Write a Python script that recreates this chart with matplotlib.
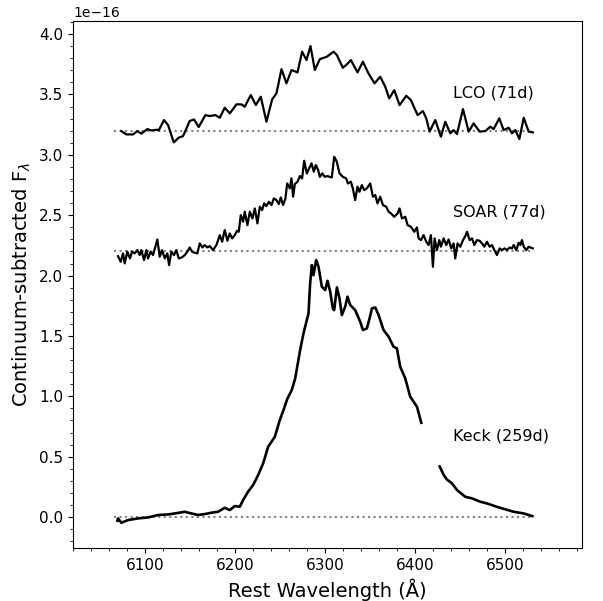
import matplotlib
matplotlib.use("Agg")
import matplotlib.pyplot as plt
import numpy as np
from matplotlib.ticker import MultipleLocator

SCALE = 1e-16

# LCO (71d), continuum-subtracted flux in units of 1e-16
lco_wave = [6073.7, 6079.3, 6086.7, 6091.5, 6095.9, 6102.6, 6107.0, 6113.7, 6115.2, 6121.1,
            6125.6, 6131.9, 6137.4, 6142.2, 6149.6, 6154.4, 6159.6, 6167.0, 6171.9, 6178.1,
            6183.0, 6188.5, 6194.1, 6201.5, 6207.0, 6210.7, 6217.4, 6223.0, 6228.5, 6234.8,
            6241.1, 6245.9, 6251.5, 6257.0, 6262.6, 6269.3, 6274.4, 6279.3, 6283.7, 6288.5,
            6294.1, 6301.8, 6309.3, 6313.0, 6319.6, 6324.1, 6328.5, 6335.9, 6341.9, 6348.1,
            6354.8, 6361.1, 6366.7, 6371.1, 6376.7, 6382.6, 6390.0, 6395.2, 6402.6, 6408.5,
            6412.2, 6415.9, 6422.2, 6428.5, 6433.3, 6438.9, 6442.6, 6446.3, 6453.0, 6459.3,
            6464.8, 6471.5, 6477.8, 6483.3, 6487.0, 6493.3, 6498.1, 6503.7, 6507.4, 6511.1,
            6515.6, 6520.4, 6525.9, 6530.7]
lco_flux = [-0.003, -0.031, -0.031, -0.003, -0.025, 0.013, 0.002, 0.008, 0.002, 0.088,
            0.046, -0.097, -0.058, -0.045, 0.080, 0.093, 0.030, 0.129, 0.121, 0.129,
            0.107, 0.190, 0.143, 0.218, 0.218, 0.198, 0.295, 0.212, 0.281, 0.074,
            0.259, 0.309, 0.510, 0.392, 0.502, 0.483, 0.654, 0.585, 0.701, 0.502,
            0.593, 0.612, 0.654, 0.626, 0.521, 0.549, 0.585, 0.483, 0.571, 0.474,
            0.392, 0.447, 0.364, 0.267, 0.336, 0.212, 0.289, 0.253, 0.129, 0.162,
            0.102, -0.008, 0.088, -0.050, 0.074, -0.022, 0.005, -0.028, 0.179, -0.008,
            0.060, -0.008, -0.003, 0.033, 0.013, 0.102, 0.005, 0.024, -0.022, 0.005,
            -0.069, 0.107, -0.008, -0.014]

# SOAR (77d)
soar_wave = [6070.0, 6073.0, 6075.6, 6077.4, 6080.4, 6083.3, 6085.6, 6088.5, 6091.5, 6094.1,
             6095.9, 6098.9, 6101.5, 6103.3, 6106.3, 6108.9, 6111.5, 6113.7, 6116.3, 6118.9,
             6121.9, 6124.8, 6126.7, 6129.3, 6132.2, 6134.8, 6137.4, 6141.1, 6144.1, 6147.0,
             6149.6, 6152.2, 6155.2, 6158.1, 6160.7, 6163.7, 6166.3, 6169.3, 6171.9, 6175.6,
             6179.3, 6183.0, 6185.6, 6188.5, 6191.5, 6194.1, 6196.7, 6199.6, 6202.2, 6204.1,
             6206.3, 6208.9, 6210.7, 6213.7, 6216.3, 6219.3, 6221.9, 6224.8, 6227.4, 6230.0,
             6232.2, 6234.8, 6237.4, 6240.4, 6243.0, 6245.9, 6248.5, 6250.7, 6253.3, 6255.9,
             6257.8, 6260.7, 6262.6, 6264.4, 6266.3, 6269.3, 6271.9, 6274.4, 6276.7, 6279.6,
             6282.2, 6284.8, 6287.4, 6289.6, 6292.2, 6294.1, 6296.7, 6299.6, 6302.6, 6304.8,
             6307.4, 6310.0, 6312.9, 6315.9, 6319.6, 6323.3, 6325.2, 6328.5, 6330.7, 6333.3,
             6335.9, 6338.1, 6340.7, 6343.3, 6346.3, 6350.0, 6353.0, 6355.6, 6358.1, 6361.1,
             6364.1, 6367.8, 6370.4, 6373.0, 6376.7, 6380.4, 6382.6, 6385.2, 6388.9, 6391.5,
             6395.2, 6398.9, 6401.9, 6403.7, 6406.3, 6409.3, 6412.2, 6414.8, 6417.4, 6419.6,
             6421.5, 6424.1, 6426.7, 6428.5, 6431.5, 6434.4, 6437.0, 6440.0, 6442.6, 6444.4,
             6447.0, 6450.0, 6453.0, 6455.6, 6457.4, 6460.4, 6463.0, 6465.6, 6468.5, 6471.5,
             6474.1, 6476.7, 6479.6, 6482.6, 6485.2, 6487.8, 6490.7, 6493.7, 6496.3, 6499.3,
             6501.9, 6504.8, 6507.4, 6509.3, 6512.2, 6514.8, 6516.7, 6518.5, 6520.4, 6523.3,
             6525.9, 6530.4]
soar_flux = [-0.039, -0.086, -0.016, -0.099, -0.002, -0.058, -0.002, -0.016, 0.011, -0.030,
             0.011, -0.071, 0.011, -0.058, -0.002, -0.030, 0.039, 0.099, -0.044, 0.011,
             -0.058, -0.016, -0.113, -0.002, -0.030, 0.011, -0.058, -0.049, -0.030, -0.002,
             0.033, -0.002, -0.011, -0.016, 0.066, 0.033, 0.053, 0.033, 0.044, 0.011,
             0.053, 0.135, 0.080, 0.177, 0.088, 0.149, 0.108, 0.135, 0.171, 0.163,
             0.301, 0.246, 0.329, 0.218, 0.329, 0.273, 0.356, 0.232, 0.370, 0.342,
             0.398, 0.376, 0.411, 0.384, 0.439, 0.425, 0.392, 0.447, 0.384, 0.439,
             0.563, 0.522, 0.605, 0.453, 0.558, 0.577, 0.624, 0.605, 0.751, 0.646,
             0.688, 0.729, 0.660, 0.715, 0.674, 0.618, 0.646, 0.618, 0.624, 0.618,
             0.613, 0.784, 0.743, 0.646, 0.618, 0.605, 0.563, 0.577, 0.522, 0.425,
             0.536, 0.494, 0.549, 0.508, 0.522, 0.563, 0.453, 0.467, 0.398, 0.453,
             0.384, 0.370, 0.329, 0.315, 0.287, 0.315, 0.356, 0.273, 0.287, 0.218,
             0.204, 0.163, 0.199, 0.108, 0.094, 0.135, 0.080, 0.053, 0.135, -0.127,
             0.108, 0.011, 0.094, 0.039, 0.108, 0.053, 0.099, 0.025, 0.066, -0.058,
             0.066, 0.039, 0.094, 0.127, 0.163, 0.094, 0.108, 0.053, 0.094, 0.088,
             0.066, 0.039, 0.080, 0.039, 0.053, 0.011, -0.030, 0.025, 0.011, 0.025,
             0.011, 0.033, 0.025, 0.053, 0.011, 0.072, 0.053, 0.094, 0.039, 0.011,
             0.039, 0.025]

# Keck (259d); NaN marks the masked gap
keck_wave = [6069.3, 6070.0, 6073.7, 6081.1, 6092.2, 6103.3, 6114.4, 6125.6, 6133.0, 6144.1,
             6151.5, 6158.9, 6166.3, 6173.7, 6181.1, 6188.5, 6194.1, 6199.6, 6205.2, 6208.9,
             6214.4, 6220.0, 6225.6, 6231.1, 6236.7, 6244.1, 6249.6, 6253.7, 6258.0, 6262.9,
             6266.7, 6272.2, 6275.9, 6281.5, 6283.3, 6285.2, 6287.0, 6290.0, 6292.6, 6296.3,
             6300.0, 6302.6, 6305.6, 6308.5, 6310.0, 6313.0, 6315.9, 6318.5, 6322.2, 6324.8,
             6327.8, 6333.3, 6338.9, 6341.9, 6346.3, 6349.3, 6351.9, 6355.6, 6359.3, 6364.8,
             6370.4, 6375.9, 6379.6, 6383.3, 6388.9, 6394.4, 6401.9, 6406.7, 6416.0,
             6427.0, 6431.5, 6435.2, 6440.7, 6446.3, 6451.9, 6455.6, 6463.0, 6472.2, 6479.6,
             6490.7, 6500.0, 6509.3, 6520.4, 6530.0]
keck_flux = [-0.030, -0.011, -0.047, -0.025, -0.011, -0.003, 0.017, 0.022, 0.030, 0.044,
             0.030, 0.017, 0.025, 0.036, 0.044, 0.077, 0.058, 0.091, 0.086, 0.141,
             0.210, 0.265, 0.348, 0.444, 0.582, 0.665, 0.803, 0.886, 0.980, 1.052,
             1.148, 1.383, 1.521, 1.687, 1.935, 2.087, 2.004, 2.128, 2.073, 1.908,
             1.880, 1.957, 1.866, 1.728, 1.714, 1.902, 1.811, 1.673, 1.742, 1.825,
             1.756, 1.714, 1.618, 1.549, 1.563, 1.645, 1.728, 1.736, 1.673, 1.549,
             1.494, 1.411, 1.397, 1.245, 1.148, 0.997, 0.914, 0.781, np.nan,
             0.420, 0.350, 0.310, 0.280, 0.224, 0.190, 0.168, 0.155, 0.127, 0.113,
             0.085, 0.064, 0.044, 0.030, 0.008]

labels = ["LCO (71d)", "SOAR (77d)", "Keck (259d)"]
offsets = [3.2, 2.2, 0.0]
label_y = [3.51, 2.53, 0.67]
zero_range = [6066, 6528]
line_widths = [1.6, 1.6, 1.9]


def main() -> None:
    fig = plt.figure(figsize=(6.03, 6.01), dpi=100)
    ax = fig.add_axes([0.121, 0.088, 0.844, 0.877])

    spectra = [(lco_wave, lco_flux), (soar_wave, soar_flux), (keck_wave, keck_flux)]
    for (wave, flux), off, lab, ly, lw in zip(spectra, offsets, labels, label_y, line_widths):
        ax.plot(zero_range, [off * SCALE, off * SCALE], ls=":", color="0.5", lw=1.5)
        ax.plot(wave, (np.array(flux, dtype=float) + off) * SCALE, color="k", lw=lw)
        ax.text(6442, ly * SCALE, lab, fontsize=11.5, va="center", ha="left")

    ax.set_xlim(6020, 6585)
    ax.set_ylim(-0.257e-16, 4.108e-16)
    ax.xaxis.set_major_locator(MultipleLocator(100))
    ax.xaxis.set_minor_locator(MultipleLocator(20))
    ax.yaxis.set_major_locator(MultipleLocator(0.5e-16))
    ax.yaxis.set_minor_locator(MultipleLocator(0.1e-16))
    ax.tick_params(labelsize=11)
    ax.yaxis.get_offset_text().set_fontsize(10)
    ax.set_xlabel("Rest Wavelength (Å)", fontsize=14)
    ax.set_ylabel(r"Continuum-subtracted F$_\lambda$", fontsize=14)
    fig.savefig("out.png", dpi=100)
    plt.close(fig)


if __name__ == "__main__":
    main()
